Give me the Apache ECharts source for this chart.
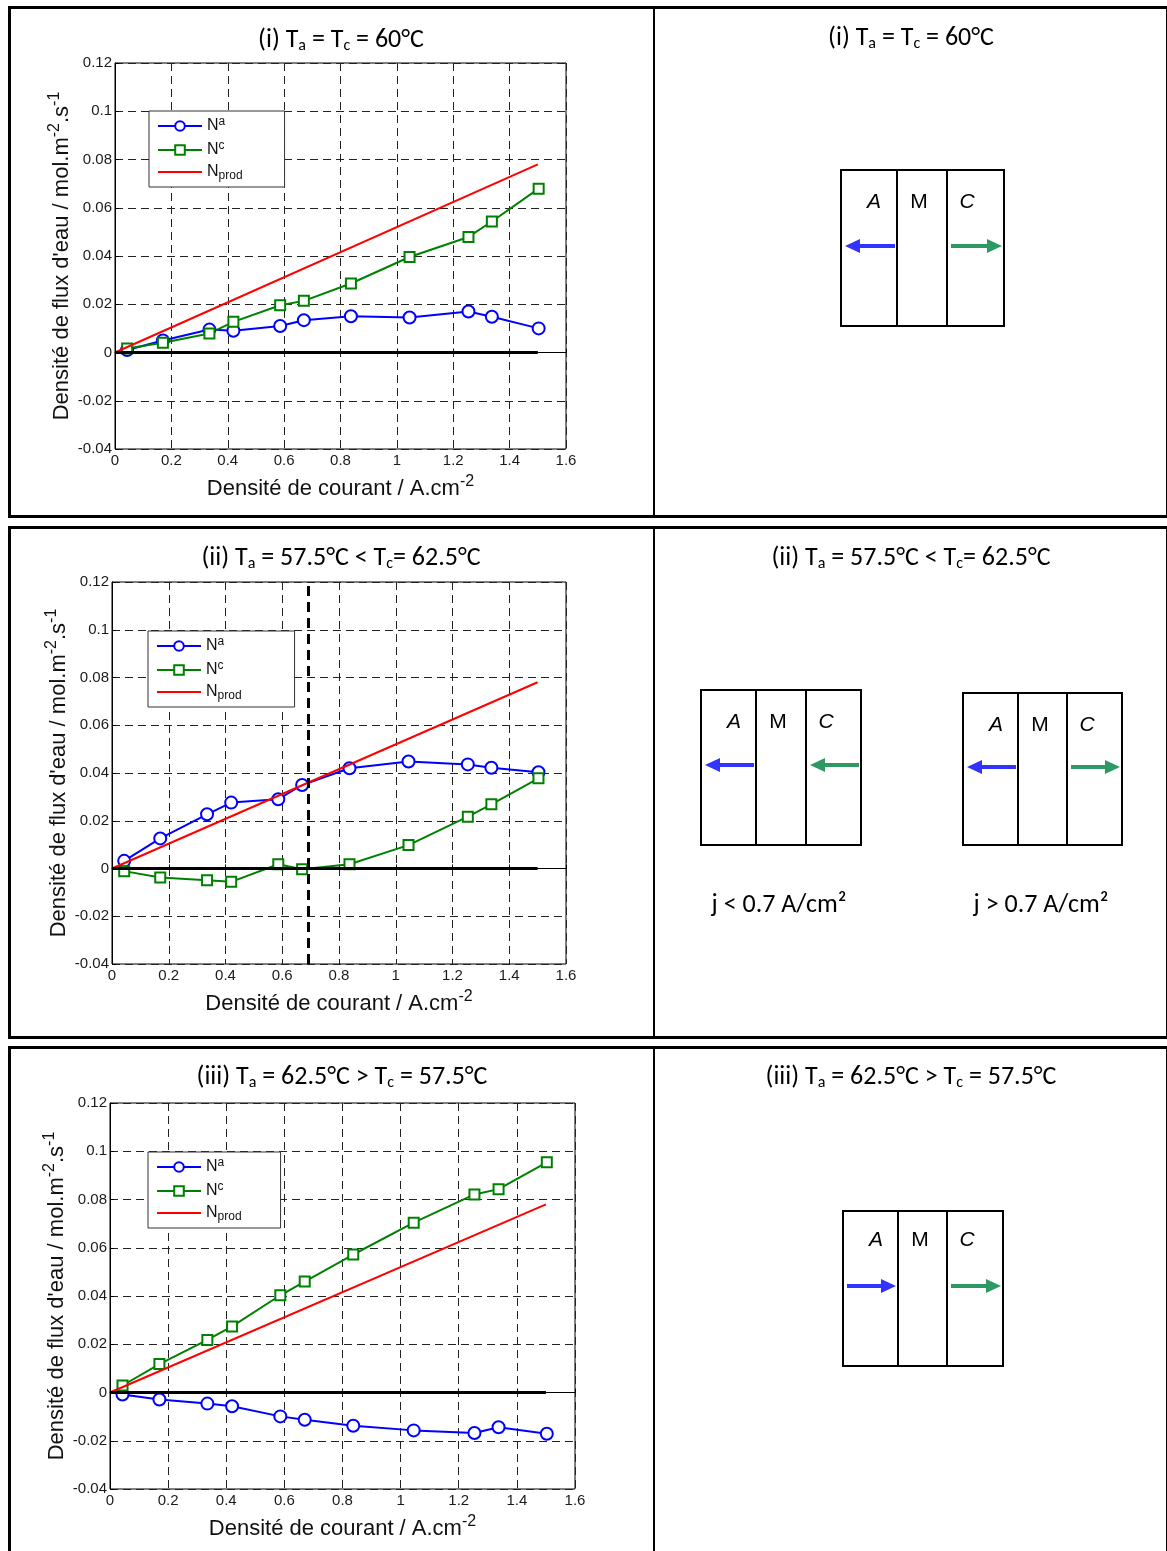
<!DOCTYPE html>
<html><head><meta charset="utf-8">
<script src="https://cdn.jsdelivr.net/npm/echarts@6/dist/echarts.min.js"></script>
<style>html,body{margin:0;padding:0;background:#fff}#c{width:1167px;height:1551px}</style>
</head><body><div id="c"></div>
<script>
// ---------------- data ----------------
const currentDensity = [0.043, 0.170, 0.335, 0.420, 0.586, 0.670, 0.837, 1.045, 1.254, 1.337, 1.503];
// (i) Ta = Tc = 60°C
const nAnode_i   = [0.0010, 0.0050, 0.0095, 0.0090, 0.0110, 0.0134, 0.0150, 0.0145, 0.0170, 0.0148, 0.0100];
const nCathode_i = [0.0017, 0.0040, 0.0079, 0.0127, 0.0196, 0.0214, 0.0286, 0.0396, 0.0479, 0.0543, 0.0679];
// (ii) Ta = 57.5°C < Tc = 62.5°C
const nAnode_ii   = [0.0032, 0.0126, 0.0227, 0.0276, 0.0290, 0.0350, 0.0420, 0.0448, 0.0436, 0.0422, 0.0403];
const nCathode_ii = [-0.0011, -0.0038, -0.0049, -0.0056, 0.0018, -0.0003, 0.0018, 0.0098, 0.0217, 0.0269, 0.0378];
// (iii) Ta = 62.5°C > Tc = 57.5°C
const nAnode_iii   = [-0.0008, -0.0029, -0.0046, -0.0057, -0.0099, -0.0113, -0.0138, -0.0157, -0.0168, -0.0144, -0.0171];
const nCathode_iii = [0.0029, 0.0118, 0.0218, 0.0274, 0.0403, 0.0460, 0.0572, 0.0704, 0.0821, 0.0843, 0.0954];
// produced water (linear) and zero reference
const nProdJ = [0, 1.5];
const nProdVal = [0, 0.078];
const zeroJ = [0, 1.5];
const zeroVal = [0, 0];
const thresholdJ = 0.69;
// axes
const xMin = 0, xMax = 1.6, xStep = 0.2;
const yMin = -0.04, yMax = 0.12, yStep = 0.02;
// texts
const chartTitles = [
  '(i) T{s|a} = T{s|c} = 60°C',
  '(ii) T{s|a} = 57.5°C < T{s|c}= 62.5°C',
  '(iii) T{s|a} = 62.5°C > T{s|c} = 57.5°C'
];
const seriesNames = ['Na', 'Nc', 'Nprod'];
const legendLabels = {Na: '{b|N}{sup|a}', Nc: '{b|N}{sup|c}', Nprod: '{b|N}{sub|prod}'};
const xAxisName = '{n|Densité de courant / A.cm}{sup|-2}';
const yAxisName = "{n|Densité de flux d'eau / mol.m}{sup|-2}{n|.s}{sup|-1}";
const zoneLabels = ['A', 'M', 'C'];
const regimeLabels = ['j < 0.7 A/cm²', 'j > 0.7 A/cm²'];

const anodeSets = [nAnode_i, nAnode_ii, nAnode_iii];
const cathodeSets = [nCathode_i, nCathode_ii, nCathode_iii];

// ---------------- layout ----------------
const grids = [
  {left: 115, top: 63, width: 451, height: 386},
  {left: 112, top: 582, width: 454, height: 382},
  {left: 110, top: 1103, width: 465, height: 386}
];
const legendPos = [
  {left: 149, top: 111, pr: 42},
  {left: 148, top: 631, pr: 53},
  {left: 148, top: 1152, pr: 39}
];
const titlePos = [[341, 40], [341, 558], [342, 1077]];
const rightTitlePos = [[911, 38], [911, 558], [911, 1077]];

const ARIAL = 'Liberation Sans, Arial, sans-serif';
const CAL = 'Carlito, Lato, sans-serif';
const BLUE = '#0000ff', GREEN = '#008000', RED = '#ff0000';
const ABLUE = '#3333ff', AGREEN = '#2e9963';

const xAxes = [], yAxes = [], series = [], legends = [];
const nameRich = {
  n: {fontFamily: ARIAL, fontSize: 22, lineHeight: 30, color: '#111'},
  sup: {fontFamily: ARIAL, fontSize: 16, lineHeight: 8, verticalAlign: 'top', color: '#111'}
};
grids.forEach((g, k) => {
  xAxes.push({
    type: 'value', gridIndex: k, min: xMin, max: xMax, interval: xStep,
    name: xAxisName, nameLocation: 'middle', nameGap: 25,
    nameTextStyle: {rich: nameRich},
    axisLine: {show: true, lineStyle: {color: '#000', width: 1}},
    axisTick: {show: true, inside: true, length: 4, lineStyle: {color: '#000'}},
    axisLabel: {fontFamily: ARIAL, fontSize: 15, color: '#1a1a1a', margin: 4},
    splitLine: {show: true, lineStyle: {color: '#222', width: 1, type: [8, 5]}}
  });
  yAxes.push({
    type: 'value', gridIndex: k, min: yMin, max: yMax, interval: yStep,
    name: yAxisName, nameLocation: 'middle', nameGap: 38,
    nameTextStyle: {rich: nameRich},
    axisLine: {show: true, lineStyle: {color: '#000', width: 1}},
    axisTick: {show: true, inside: true, length: 4, lineStyle: {color: '#000'}},
    axisLabel: {fontFamily: ARIAL, fontSize: 15, color: '#1a1a1a', margin: 3},
    splitLine: {show: true, lineStyle: {color: '#222', width: 1, type: [8, 5]}}
  });
  series.push({
    name: 'Na', type: 'line', xAxisIndex: k, yAxisIndex: k,
    data: currentDensity.map((x, i) => [x, anodeSets[k][i]]),
    symbol: 'emptyCircle', symbolSize: 12,
    lineStyle: {color: BLUE, width: 2}, itemStyle: {color: BLUE, borderWidth: 2}, z: 3
  });
  series.push({
    name: 'Nc', type: 'line', xAxisIndex: k, yAxisIndex: k,
    data: currentDensity.map((x, i) => [x, cathodeSets[k][i]]),
    symbol: 'emptyRect', symbolSize: 10,
    lineStyle: {color: GREEN, width: 2}, itemStyle: {color: GREEN, borderWidth: 2}, z: 3
  });
  series.push({
    name: 'Nprod', type: 'line', xAxisIndex: k, yAxisIndex: k,
    data: nProdJ.map((x, i) => [x, nProdVal[i]]),
    symbol: 'none', lineStyle: {color: RED, width: 2}, itemStyle: {color: RED}, z: 4
  });
  series.push({
    name: 'zero', type: 'line', xAxisIndex: k, yAxisIndex: k,
    data: zeroJ.map((x, i) => [x, zeroVal[i]]),
    symbol: 'none', lineStyle: {color: '#000', width: 3}, z: 5, silent: true,
    markLine: k === 1 ? {
      silent: true, symbol: ['none', 'none'], label: {show: false},
      lineStyle: {color: '#000', width: 3, type: [10, 6]},
      data: [{xAxis: thresholdJ}]
    } : undefined
  });
  const lp = legendPos[k];
  legends.push({
    data: [seriesNames[0], seriesNames[1], {name: seriesNames[2], icon: 'path://M0,0H44V2H0Z'}],
    orient: 'vertical', left: lp.left, top: lp.top,
    padding: [5, lp.pr, 5, 8], itemGap: 6, itemWidth: 44, itemHeight: 12,
    backgroundColor: '#fff', borderColor: '#333', borderWidth: 1, borderRadius: 0,
    selectedMode: false,
    formatter: n => legendLabels[n],
    textStyle: {rich: {
      b: {fontFamily: ARIAL, fontSize: 16, lineHeight: 20, color: '#111'},
      sup: {fontFamily: ARIAL, fontSize: 12, lineHeight: 8, verticalAlign: 'top', color: '#111'},
      sub: {fontFamily: ARIAL, fontSize: 12, lineHeight: 5, verticalAlign: 'bottom', color: '#111'}
    }}
  });
});

// ---------------- graphics: frames, titles, diagrams ----------------
const graphics = [];
function rect(x, y, w, h, lw) {
  graphics.push({type: 'rect', shape: {x, y, width: w, height: h}, style: {fill: 'none', stroke: '#000', lineWidth: lw}, silent: true});
}
function line(x1, y1, x2, y2, lw, color) {
  graphics.push({type: 'line', shape: {x1, y1, x2, y2}, style: {stroke: color || '#000', lineWidth: lw}, silent: true});
}
function text(str, x, y, font, extra) {
  graphics.push({type: 'text', silent: true, style: Object.assign({
    text: str, x, y, align: 'center', verticalAlign: 'middle', fill: '#000'
  }, font, extra || {})});
}
// row frames
rect(9.5, 7.5, 1158, 509, 3);
rect(9.5, 527.5, 1158, 510, 3);
rect(9.5, 1047.5, 1158, 600, 3);
line(654, 7.5, 654, 516.5, 2);
line(654, 527.5, 654, 1037.5, 2);
line(654, 1047.5, 654, 1551, 2);

const titleRich = {
  s: {fontFamily: CAL, fontSize: 16, lineHeight: 10, verticalAlign: 'bottom', fill: '#000'}
};
chartTitles.forEach((t, k) => {
  const f = {fontFamily: CAL, fontSize: 26, lineHeight: 28, rich: titleRich};
  text(t, titlePos[k][0], titlePos[k][1], f);
  text(t, rightTitlePos[k][0], rightTitlePos[k][1], f);
});

function arrow(tail, tip, y, color) {
  const dir = tip > tail ? 1 : -1;
  const hl = 15, hw = 7;
  const base = tip - dir * hl;
  graphics.push({type: 'line', silent: true, shape: {x1: tail, y1: y, x2: base + dir, y2: y}, style: {stroke: color, lineWidth: 4}});
  graphics.push({type: 'polygon', silent: true, shape: {points: [[tip, y], [base, y - hw], [base, y + hw]]}, style: {fill: color}});
}
function diagram(x, y, h, widths, letterDy, arrowDy, dirA, dirC) {
  const d1 = x + widths[0], d2 = d1 + widths[1], xr = d2 + widths[2];
  rect(x, y, xr - x, h, 2);
  line(d1, y, d1, y + h, 2);
  line(d2, y, d2, y + h, 2);
  const lf = {fontFamily: ARIAL, fontSize: 21};
  text(zoneLabels[0], x + 33, y + letterDy, Object.assign({fontStyle: 'italic'}, lf));
  text(zoneLabels[1], d1 + 22, y + letterDy, lf);
  text(zoneLabels[2], d2 + 20, y + letterDy, Object.assign({fontStyle: 'italic'}, lf));
  const ay = y + arrowDy;
  const aL = x + 4, aR = d1 - 2;
  if (dirA < 0) arrow(aR, aL, ay, ABLUE); else arrow(aL, aR, ay, ABLUE);
  const cL = d2 + 4, cR = xr - 2;
  if (dirC < 0) arrow(cR, cL, ay, AGREEN); else arrow(cL, cR, ay, AGREEN);
}
diagram(841, 170, 156, [56, 50, 57], 32, 76, -1, 1);
diagram(701, 690, 155, [55, 50, 55], 32, 75, -1, -1);
diagram(963, 693, 152, [55, 49, 55], 32, 74, -1, 1);
diagram(843, 1211, 155, [55, 49, 56], 29, 75, 1, 1);
text(regimeLabels[0], 779, 905, {fontFamily: CAL, fontSize: 26});
text(regimeLabels[1], 1041, 905, {fontFamily: CAL, fontSize: 26});

const chart = echarts.init(document.getElementById('c'), null, {renderer: 'canvas'});
chart.setOption({
  backgroundColor: '#fff',
  animation: false,
  grid: grids.map(g => Object.assign({show: true, borderColor: '#000', borderWidth: 1, containLabel: false}, g)),
  xAxis: xAxes,
  yAxis: yAxes,
  legend: legends,
  series: series,
  graphic: {elements: graphics}
});
</script></body></html>
